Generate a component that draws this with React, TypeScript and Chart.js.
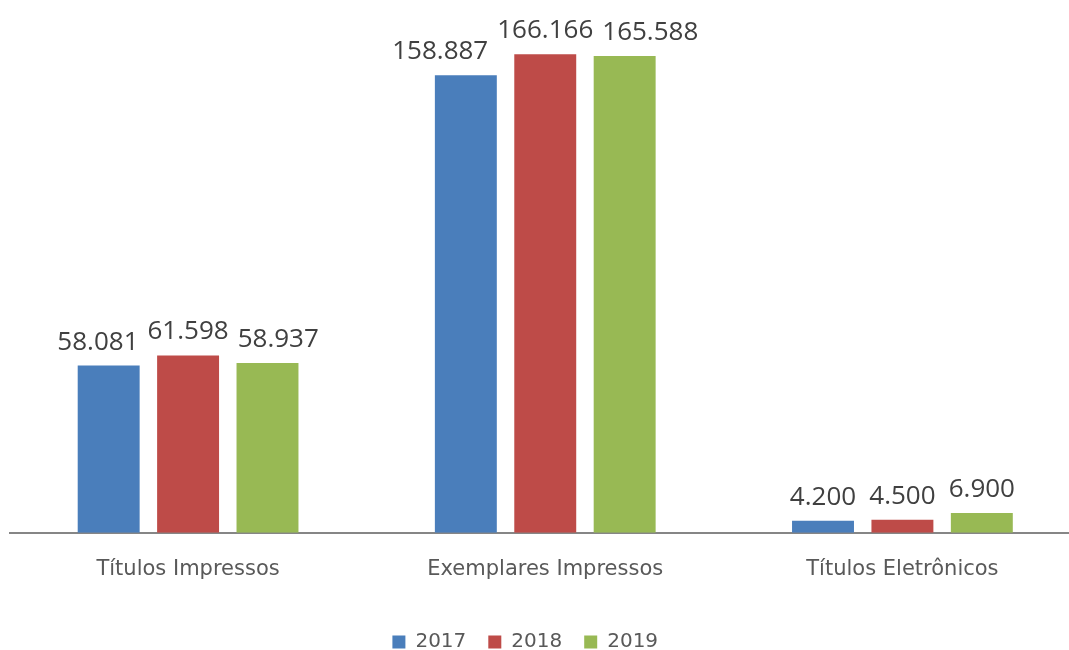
import React, { useEffect, useRef } from "react";
import { Chart, registerables } from "chart.js";

Chart.register(...registerables);

const categories = ["Títulos Impressos", "Exemplares Impressos", "Títulos Eletrônicos"];
const seriesNames = ["2017", "2018", "2019"];
const values2017 = [58081, 158887, 4200];
const values2018 = [61598, 166166, 4500];
const values2019 = [58937, 165588, 6900];
const colors = ["#4A7EBB", "#BE4B48", "#98B954"];

function fmt(v: number): string {
  const s = Math.round(v).toString();
  return s.replace(/\B(?=(\d{3})+(?!\d))/g, ".");
}

const labelPlugin = {
  id: "barLabels",
  afterDatasetsDraw(chart: any) {
    const ctx = chart.ctx;
    ctx.save();
    ctx.font = "26px 'Open Sans'";
    ctx.fillStyle = "#404040";
    ctx.textAlign = "center";
    ctx.textBaseline = "alphabetic";
    const n = chart.data.datasets.length;
    const gap = 9;
    chart.data.labels.forEach((_: any, j: number) => {
      const items: any[] = [];
      for (let i = 0; i < n; i++) {
        const el = chart.getDatasetMeta(i).data[j];
        const text = fmt(chart.data.datasets[i].data[j]);
        const w = ctx.measureText(text).width;
        items.push({ text, x: el.x, y: el.y, w });
      }
      const mid = Math.floor(n / 2);
      for (let i = mid + 1; i < n; i++) {
        const prevRight = items[i - 1].x + items[i - 1].w / 2;
        const left = items[i].x - items[i].w / 2;
        if (left < prevRight + gap) items[i].x += prevRight + gap - left;
      }
      for (let i = mid - 1; i >= 0; i--) {
        const nextLeft = items[i + 1].x - items[i + 1].w / 2;
        const right = items[i].x + items[i].w / 2;
        if (right > nextLeft - gap) items[i].x -= right - (nextLeft - gap);
      }
      items.forEach((it) => ctx.fillText(it.text, it.x, it.y - 16));
    });
    ctx.restore();
  },
};

const legendShift = {
  id: "legendShift",
  afterLayout(chart: any) {
    if (chart.legend) {
      chart.legend.left -= 20;
      chart.legend.right -= 20;
    }
  },
};

export default function App() {
  const ref = useRef<HTMLCanvasElement | null>(null);
  useEffect(() => {
    document.body.style.margin = "0";
    const chart = new Chart(ref.current as HTMLCanvasElement, {
      type: "bar",
      data: {
        labels: categories,
        datasets: [values2017, values2018, values2019].map((d, i) => ({
          label: seriesNames[i],
          data: d,
          backgroundColor: colors[i],
          borderWidth: 0,
          categoryPercentage: 0.667,
          barPercentage: 0.78,
        })),
      },
      options: {
        responsive: false,
        animation: false,
        layout: { padding: { left: 9.5, right: 9, top: 0, bottom: -12 } },
        plugins: {
          tooltip: { enabled: false },
          legend: {
            position: "bottom",
            labels: {
              boxWidth: 13,
              boxHeight: 13,
              padding: 22,
              color: "#595959",
              font: { family: "'DejaVu Sans'", size: 20 },
            },
          },
        },
        scales: {
          x: {
            grid: { display: false, drawTicks: false },
            border: { display: true, color: "#868686", width: 2 },
            ticks: {
              color: "#595959",
              font: { family: "'DejaVu Sans'", size: 21 },
              padding: 24,
            },
            afterFit: (scale: any) => {
              scale.height = scale.height + 4;
            },
          },
          y: {
            display: false,
            min: 0,
            max: 185000,
          },
        },
      },
      plugins: [labelPlugin, legendShift],
    });
    return () => chart.destroy();
  }, []);
  return (
    <div style={{ width: 1069, height: 650, overflow: "hidden", background: "#fff" }}>
      <canvas ref={ref} width={1090} height={650} style={{ display: "block" }} />
    </div>
  );
}
